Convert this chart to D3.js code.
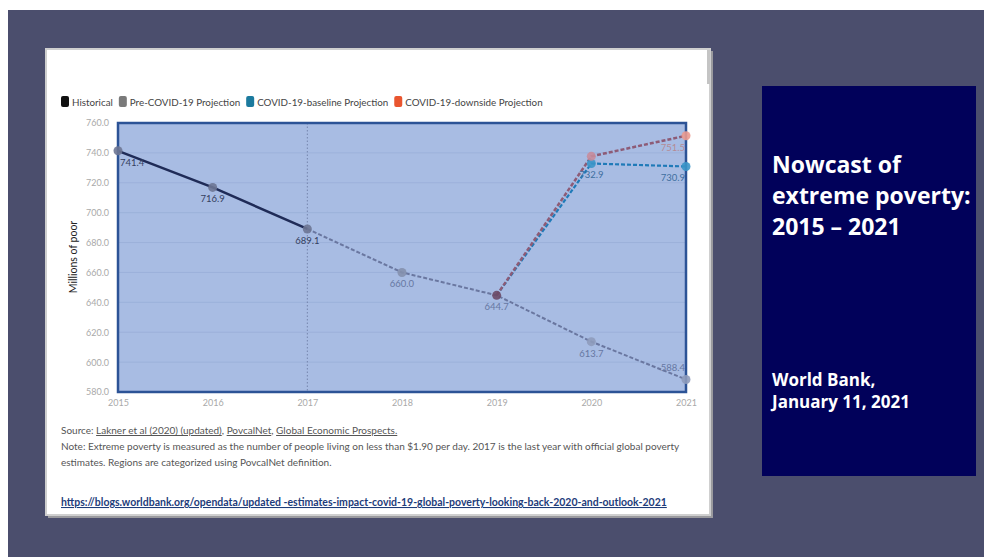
<!DOCTYPE html>
<html>
<head>
<meta charset="utf-8">
<script src="https://cdn.jsdelivr.net/npm/d3@7"></script>
<style>
  html, body { margin: 0; padding: 0; background: #ffffff; }
  svg { display: block; font-family: Lato, "Open Sans", sans-serif; }
  .panel-text { font-family: "Open Sans", sans-serif; }
</style>
</head>
<body>
<svg id="slide" width="984" height="557"></svg>
<script>
// Global extreme poverty headcount (millions), $1.90/day line
const years = [2015, 2016, 2017, 2018, 2019, 2020, 2021];
const historicalYears = [2015, 2016, 2017];
const historicalValues = [741.4, 716.9, 689.1];
const preCovidYears = [2017, 2018, 2019, 2020, 2021];
const preCovidValues = [689.1, 660.0, 644.7, 613.7, 588.4];
const baselineYears = [2019, 2020, 2021];
const baselineValues = [644.7, 732.9, 730.9];
const downsideYears = [2019, 2020, 2021];
const downsideValues = [644.7, 737.7, 751.5];
const yTicks = [580, 600, 620, 640, 660, 680, 700, 720, 740, 760];
const legendLabels = ["Historical", "Pre-COVID-19 Projection", "COVID-19-baseline Projection", "COVID-19-downside Projection"];
const legendColors = ["#111111", "#7a7a7a", "#1b7a9e", "#e9552f"];

const svg = d3.select("#slide");

// slide background
svg.append("rect").attr("x", 8).attr("y", 10).attr("width", 976).attr("height", 547).attr("fill", "#4b4e6d");

// title panel
svg.append("rect").attr("x", 762).attr("y", 86).attr("width", 214).attr("height", 390).attr("fill", "#01015a");
const title = svg.append("text").attr("class", "panel-text").attr("fill", "#ffffff")
  .attr("font-weight", 700).attr("font-size", 23);
["Nowcast of", "extreme poverty:", "2015 \u2013 2021"].forEach((t, i) => {
  title.append("tspan").attr("x", 772).attr("y", 173 + i * 31).text(t);
});
const byline = svg.append("text").attr("class", "panel-text").attr("fill", "#ffffff")
  .attr("font-weight", 700).attr("font-size", 17);
["World Bank,", "January 11, 2021"].forEach((t, i) => {
  byline.append("tspan").attr("x", 772).attr("y", 386 + i * 22).text(t);
});

// chart card with shadow
svg.append("rect").attr("x", 48).attr("y", 51).attr("width", 665).attr("height", 467).attr("fill", "#9a9a9e");
svg.append("rect").attr("x", 46).attr("y", 49).attr("width", 664).attr("height", 466)
  .attr("fill", "#ffffff").attr("stroke", "#cfcfcf").attr("stroke-width", 2);
svg.append("rect").attr("x", 707).attr("y", 50).attr("width", 3).attr("height", 34).attr("fill", "#c4c4c4");

// legend
const legend = svg.append("g").attr("transform", "translate(61,96)");
let lx = 0;
legendLabels.forEach((lab, i) => {
  const g = legend.append("g").attr("transform", `translate(${lx},0)`);
  g.append("rect").attr("x", 0).attr("y", 0).attr("width", 8).attr("height", 11).attr("rx", 2).attr("fill", legendColors[i]);
  const t = g.append("text").attr("x", 11).attr("y", 9.5).attr("font-size", 9.8).attr("fill", "#444").text(lab);
  lx += 11 + t.node().getComputedTextLength() + 6;
});

// plot area
const x = d3.scaleLinear().domain([2015, 2021]).range([118, 686]);
const y = d3.scaleLinear().domain([580, 760]).range([392, 123]);

svg.append("rect").attr("x", x(2015)).attr("y", y(760)).attr("width", x(2021) - x(2015)).attr("height", y(580) - y(760))
  .attr("fill", "#a8bce3");

svg.append("g").selectAll("line").data(yTicks.slice(1, -1)).join("line")
  .attr("x1", x(2015)).attr("x2", x(2021)).attr("y1", d => y(d)).attr("y2", d => y(d))
  .attr("stroke", "#9cb1da").attr("stroke-width", 1);

svg.append("line").attr("x1", x(2017)).attr("x2", x(2017)).attr("y1", y(760)).attr("y2", y(580))
  .attr("stroke", "#7585ad").attr("stroke-width", 1).attr("stroke-dasharray", "1.5,2");

// axes
const yAxis = svg.append("g").attr("transform", `translate(${x(2015)},0)`)
  .call(d3.axisLeft(y).tickValues(yTicks).tickSize(0).tickPadding(9).tickFormat(d3.format(".1f")));
yAxis.select(".domain").remove();
yAxis.attr("font-family", null);
yAxis.selectAll("text").attr("font-size", 9).attr("fill", "#a9a9a9");

const xAxis = svg.append("g").attr("transform", `translate(0,${y(580)})`)
  .call(d3.axisBottom(x).tickValues(years).tickSize(0).tickPadding(8).tickFormat(d3.format("d")));
xAxis.select(".domain").remove();
xAxis.attr("font-family", null);
xAxis.selectAll("text").attr("font-size", 9).attr("fill", "#a9a9a9");

svg.append("text").attr("transform", `translate(77,257) rotate(-90)`).attr("text-anchor", "middle")
  .attr("font-size", 10.5).attr("fill", "#222").text("Millions of poor");

// series
const zip = (xs, vs) => xs.map((yr, i) => ({ year: yr, value: vs[i] }));
const line = d3.line().x(d => x(d.year)).y(d => y(d.value));

const series = [
  { data: zip(preCovidYears, preCovidValues), stroke: "#6a77a0", width: 2, dash: "4,2" },
  { data: zip(baselineYears, baselineValues), stroke: "#1f7ab8", width: 2.2, dash: "4,2" },
  { data: zip(downsideYears, downsideValues), stroke: "#8d5b76", width: 2.5, dash: "4,2" },
  { data: zip(historicalYears, historicalValues), stroke: "#1f2b57", width: 2.5, dash: null }
];
series.forEach(s => {
  svg.append("path").datum(s.data).attr("d", line).attr("fill", "none")
    .attr("stroke", s.stroke).attr("stroke-width", s.width).attr("stroke-dasharray", s.dash);
});

// the plot frame sits above the fill and lines
svg.append("rect").attr("x", x(2015)).attr("y", y(760)).attr("width", x(2021) - x(2015)).attr("height", y(580) - y(760))
  .attr("fill", "none").attr("stroke", "#2c5396").attr("stroke-width", 2.5);

// markers
const points = [
  ...zip(historicalYears, historicalValues).map(d => ({ ...d, fill: "#6d7593" })),
  ...zip([2018], [660.0]).map(d => ({ ...d, fill: "#8490ad" })),
  ...zip([2020, 2021], [613.7, 588.4]).map(d => ({ ...d, fill: "#8e9bbb" })),
  { year: 2019, value: 644.7, fill: "#6c4a67" },
  ...zip([2020, 2021], [732.9, 730.9]).map(d => ({ ...d, fill: "#3a95c8" })),
  { year: 2020, value: 737.7, fill: "#c78c9c" },
  { year: 2021, value: 751.5, fill: "#eb9a8f" }
];
svg.append("g").selectAll("circle").data(points).join("circle")
  .attr("cx", d => x(d.year)).attr("cy", d => y(d.value)).attr("r", 4.5)
  .attr("fill", d => d.fill).attr("opacity", 0.9);

// value labels
const labels = [
  ...zip(historicalYears, historicalValues).map(d => ({ ...d, color: "#34405f" })),
  ...zip([2018, 2019, 2020, 2021], [660.0, 644.7, 613.7, 588.4]).map(d => ({ ...d, color: "#6677a2" })),
  ...zip([2020, 2021], [732.9, 730.9]).map(d => ({ ...d, color: "#3f6f9f" })),
  { year: 2021, value: 751.5, color: "#b58b95" }
];
const fmt = d3.format(".1f");
const labelG = svg.append("g");
labels.forEach(d => {
  const t = labelG.append("text").attr("font-size", 9.5).attr("fill", d.color).text(fmt(d.value));
  const w = t.node().getComputedTextLength();
  let cx = x(d.year);
  cx = Math.max(x(2015) + 2 + w / 2, Math.min(x(2021) - 1 - w / 2, cx));
  let by = y(d.value) + 15;
  if (by > y(580) - 3) by = y(d.value) - 8;
  t.attr("x", cx).attr("y", by).attr("text-anchor", "middle");
});

// notes
const note = svg.append("g").attr("font-size", 10).attr("fill", "#555");
const src = note.append("text").attr("x", 61).attr("y", 434);
src.append("tspan").text("Source: ");
src.append("tspan").attr("text-decoration", "underline").text("Lakner et al (2020) (updated)");
src.append("tspan").text(", ");
src.append("tspan").attr("text-decoration", "underline").text("PovcalNet");
src.append("tspan").text(", ");
src.append("tspan").attr("text-decoration", "underline").text("Global Economic Prospects.");
note.append("text").attr("x", 61).attr("y", 450)
  .text("Note: Extreme poverty is measured as the number of people living on less than $1.90 per day. 2017 is the last year with official global poverty");
note.append("text").attr("x", 61).attr("y", 466)
  .text("estimates. Regions are categorized using PovcalNet definition.");

svg.append("text").attr("x", 61).attr("y", 506).attr("font-size", 10.5).attr("font-weight", 700)
  .attr("fill", "#1d3c7a").attr("text-decoration", "underline")
  .text("https://blogs.worldbank.org/opendata/updated -estimates-impact-covid-19-global-poverty-looking-back-2020-and-outlook-2021");
</script>
</body>
</html>
